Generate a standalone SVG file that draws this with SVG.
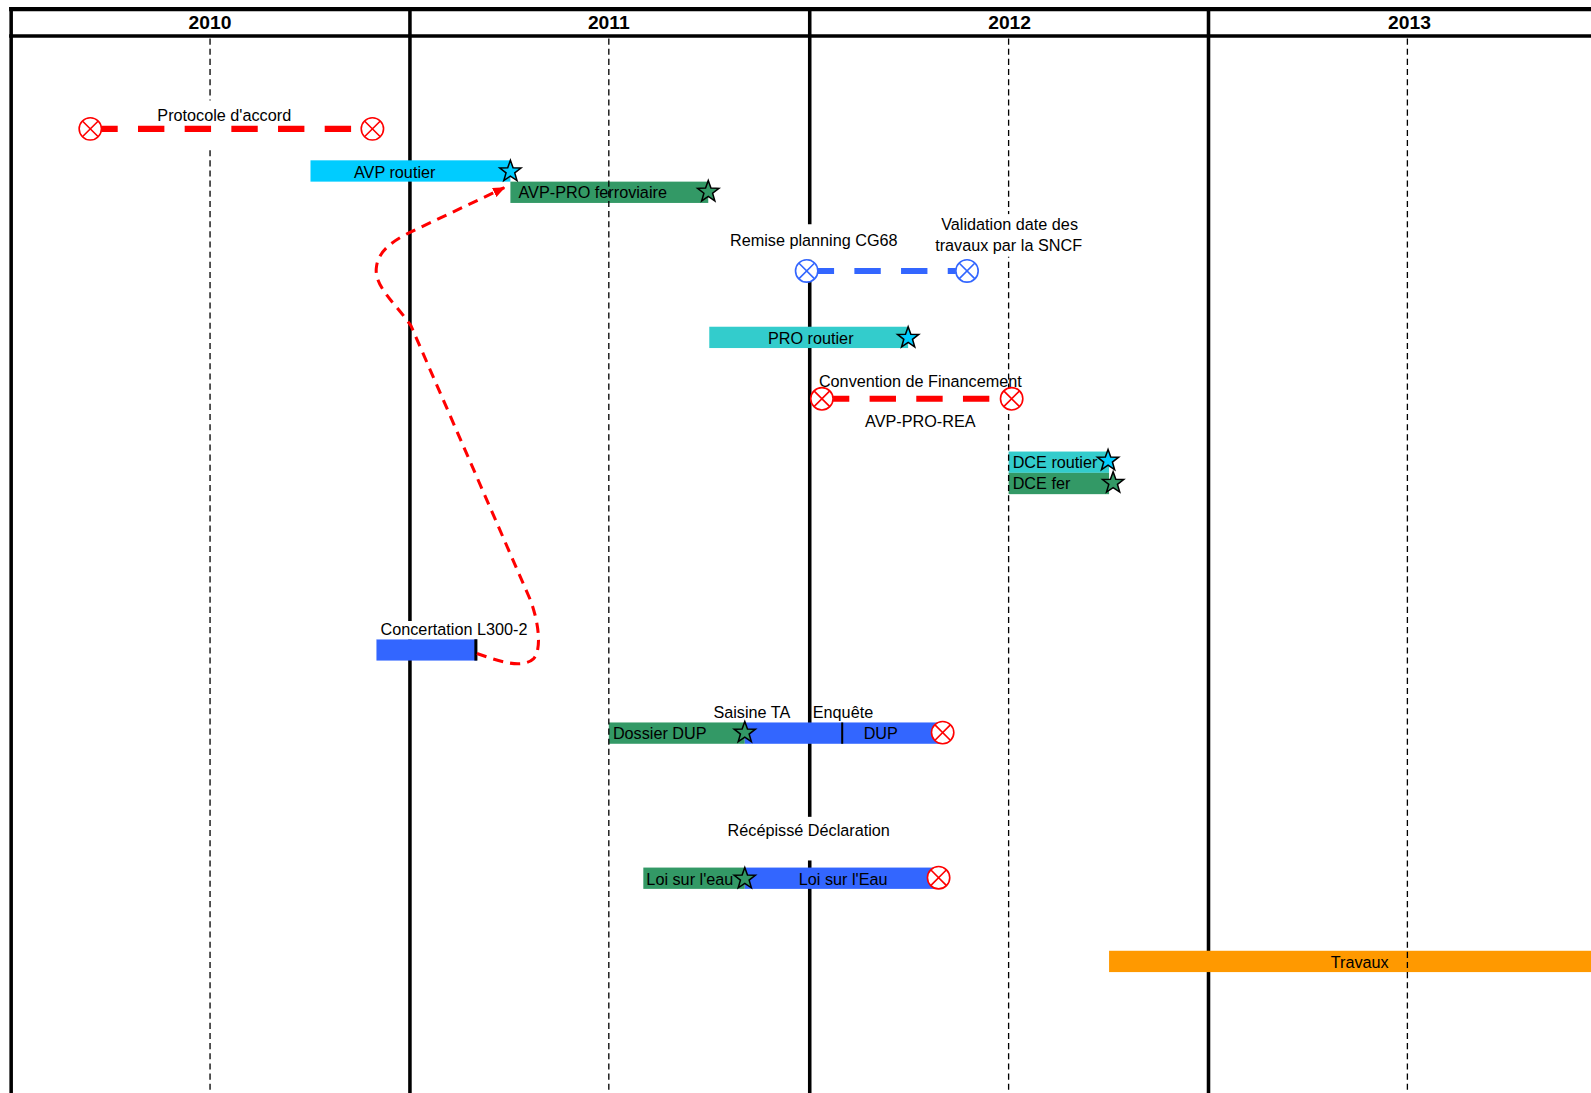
<svg xmlns="http://www.w3.org/2000/svg" xmlns:xlink="http://www.w3.org/1999/xlink" width="1591" height="1093" viewBox="0 0 1591 1093">
<style>
text{font-family:"Liberation Sans",Arial,sans-serif;font-size:16px;fill:#000}
.yr{font-size:19px;font-weight:bold;text-anchor:middle}
.mid{text-anchor:middle}
.solid{stroke:#000;stroke-width:3.5;fill:none}
.dash{stroke:#000;stroke-width:1.3;stroke-dasharray:6 4;fill:none}
.bg{fill:#fff}
.cyan{fill:#00CCFF}
.teal{fill:#33CCCC}
.green{fill:#339966}
.blue{fill:#3366FF}
.orange{fill:#FF9900}
.star{stroke:#000;stroke-width:1.5}
.xr{stroke:#FF0000;stroke-width:1.6}
.xb{stroke:#3366FF;stroke-width:1.6}
.lr{stroke:#FF0000;stroke-width:6;stroke-dasharray:26 20;stroke-dashoffset:10;fill:none}
.lb{stroke:#3366FF;stroke-width:6;stroke-dasharray:26 20;stroke-dashoffset:10;fill:none}
</style>
<defs>
<path id="star" d="M0,-11 L2.645,-3.641 L10.46,-3.4 L4.28,1.39 L6.47,8.9 L0,4.5 L-6.47,8.9 L-4.28,1.39 L-10.46,-3.4 L-2.645,-3.641 Z"/>
<g id="cx"><circle r="11" fill="#fff"/><path d="M-7.8,-7.8 L7.8,7.8 M-7.8,7.8 L7.8,-7.8" fill="none"/></g>
<marker id="arr" viewBox="0 0 12 10" refX="11" refY="5" markerWidth="12" markerHeight="10" markerUnits="userSpaceOnUse" orient="auto">
<path d="M0,0 L12,5 L0,10 Z" fill="#FF0000"/>
</marker>
</defs>
<g transform="scale(1.0147)">
<g id="grid">
<line class="solid" x1="11" y1="7" x2="11" y2="1078"/>
<line class="solid" x1="404" y1="7" x2="404" y2="1078"/>
<line class="solid" x1="798" y1="7" x2="798" y2="1078"/>
<line class="solid" x1="1191" y1="7" x2="1191" y2="1078"/>
<line stroke="#000" stroke-width="4" x1="9" y1="9" x2="1591" y2="9"/>
<line stroke="#000" stroke-width="3.5" x1="9" y1="35.5" x2="1591" y2="35.5"/>
<text class="yr" x="207" y="29">2010</text>
<text class="yr" x="600" y="29">2011</text>
<text class="yr" x="995" y="29">2012</text>
<text class="yr" x="1389" y="29">2013</text>
</g>

<g id="bars">
<g id="avp-routier"><rect class="cyan" x="306" y="158" width="197" height="21"/></g>
<g id="avp-pro-ferroviaire"><rect class="green" x="503" y="179" width="195" height="21"/></g>
<g id="pro-routier"><rect class="teal" x="699" y="322" width="196" height="21"/></g>
<g id="dce-routier"><rect class="teal" x="994" y="445" width="99" height="21"/></g>
<g id="dce-fer"><rect class="green" x="994" y="466" width="99" height="21"/></g>
<g id="concertation-bar"><rect class="blue" x="371" y="630" width="99" height="21"/></g>
<g id="dup-bar"><rect class="green" x="600" y="712" width="134" height="21"/><rect class="blue" x="734" y="712" width="194" height="21"/></g>
<g id="eau-bar"><rect class="green" x="634" y="855" width="100" height="21"/><rect class="blue" x="734" y="855" width="190" height="21"/></g>
<g id="travaux-bar"><rect class="orange" x="1093" y="937" width="498" height="21"/></g>
</g>

<g id="midlines">
<line class="dash" x1="207" y1="38" x2="207" y2="1078"/>
<line class="dash" x1="600" y1="38" x2="600" y2="1078"/>
<line class="dash" x1="994" y1="38" x2="994" y2="1078"/>
<line class="dash" x1="1387" y1="38" x2="1387" y2="1078"/>
</g>

<g id="protocole">
<rect class="bg" x="150" y="99" width="145" height="45"/>
<text class="mid" x="221" y="119">Protocole d'accord</text>
<line class="lr" x1="100" y1="127" x2="356" y2="127"/>
<use xlink:href="#cx" href="#cx" class="xr" x="89" y="127"/>
<use xlink:href="#cx" href="#cx" class="xr" x="367" y="127"/>
</g>

<g id="avp-routier-label">
<text class="mid" x="389" y="175">AVP routier</text>
<use xlink:href="#star" href="#star" class="star cyan" x="503" y="169"/>
</g>

<g id="avp-pro-ferroviaire-label">
<text x="511" y="195">AVP-PRO ferroviaire</text>
<use xlink:href="#star" href="#star" class="star green" x="698" y="189"/>
</g>

<g id="remise">
<rect class="bg" x="714" y="221" width="176" height="35"/>
<text class="mid" x="802" y="242">Remise planning CG68</text>
<rect class="bg" x="918" y="211" width="152" height="42"/>
<text class="mid" x="995" y="227">Validation date des</text>
<text class="mid" x="994" y="247">travaux par la SNCF</text>
<line class="lb" x1="806" y1="267" x2="942" y2="267"/>
<use xlink:href="#cx" href="#cx" class="xb" x="795" y="267"/>
<use xlink:href="#cx" href="#cx" class="xb" x="953" y="267"/>
</g>

<g id="pro-routier-label">
<text class="mid" x="799" y="339">PRO routier</text>
<use xlink:href="#star" href="#star" class="star cyan" x="895" y="333"/>
</g>

<g id="convention">
<text class="mid" x="907" y="381">Convention de Financement</text>
<text class="mid" x="907" y="421">AVP-PRO-REA</text>
<line class="lr" x1="821" y1="393" x2="986" y2="393"/>
<use xlink:href="#cx" href="#cx" class="xr" x="810" y="393"/>
<use xlink:href="#cx" href="#cx" class="xr" x="997" y="393"/>
</g>

<g id="dce">
<text x="998" y="461">DCE routier</text>
<use xlink:href="#star" href="#star" class="star cyan" x="1092" y="454"/>
<text x="998" y="482">DCE fer</text>
<use xlink:href="#star" href="#star" class="star green" x="1097" y="476"/>
</g>

<g id="concertation">
<rect class="bg" x="371" y="612" width="151" height="18"/>
<text x="375" y="626">Concertation L300-2</text>
<line stroke="#000" stroke-width="3" x1="469" y1="630" x2="469" y2="651"/>
</g>

<g id="dup">
<text class="mid" x="741" y="708">Saisine TA</text>
<text x="801" y="708">Enquête</text>
<text x="604" y="728">Dossier DUP</text>
<line stroke="#000" stroke-width="2" x1="830" y1="712" x2="830" y2="733"/>
<text class="mid" x="868" y="728">DUP</text>
<use xlink:href="#star" href="#star" class="star green" x="734" y="722"/>
<use xlink:href="#cx" href="#cx" class="xr" x="929" y="722"/>
</g>

<g id="loi-eau">
<rect class="bg" x="712" y="805" width="170" height="43"/>
<text class="mid" x="797" y="824">Récépissé Déclaration</text>
<text x="637" y="872">Loi sur l'eau</text>
<text class="mid" x="831" y="872">Loi sur l'Eau</text>
<use xlink:href="#star" href="#star" class="star green" x="734" y="866"/>
<use xlink:href="#cx" href="#cx" class="xr" x="925" y="865"/>
</g>

<g id="travaux">
<text class="mid" x="1340" y="954">Travaux</text>
</g>

<g id="connectors">
<path d="M470,644 C490,651 514,660 526,649 C534,640 531,614 523,592 L405,321 C390,299 368,282 371,263 C373,246 390,236 404,229 L497,185" fill="none" stroke="#FF0000" stroke-width="3" stroke-dasharray="10 7" marker-end="url(#arr)"/>
</g>
</g>
</svg>
